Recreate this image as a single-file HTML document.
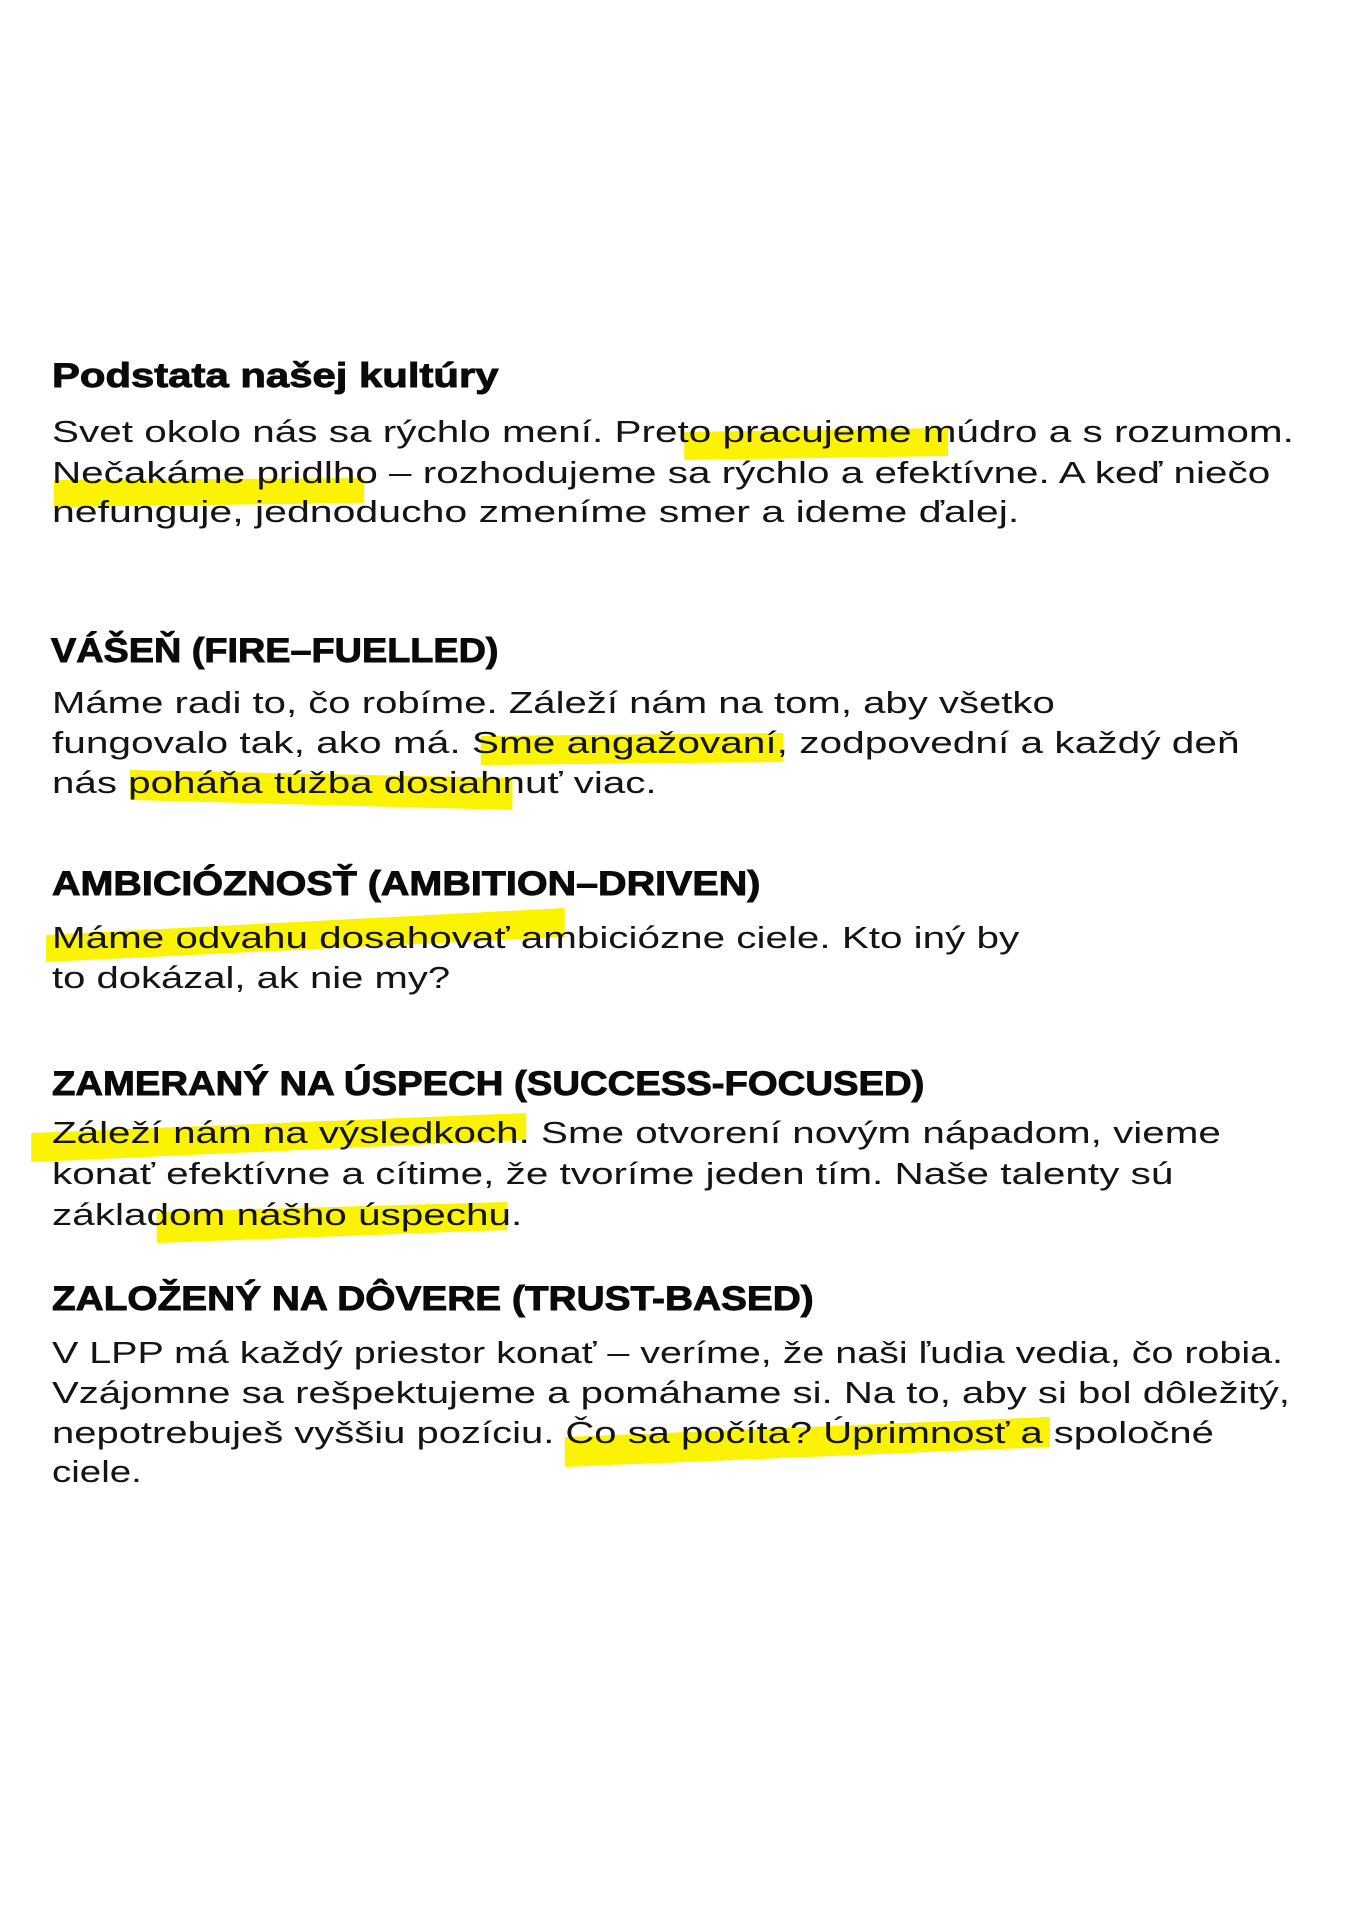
<!DOCTYPE html>
<html><head><meta charset="utf-8"><style>
html,body{margin:0;padding:0;background:#fff;}
svg{display:block;}
.h{font-family:"Liberation Sans",sans-serif;font-weight:bold;font-size:34px;fill:#0a0a0a;stroke:#0a0a0a;stroke-width:0.9px;}
.b{font-family:"Liberation Sans",sans-serif;font-size:31px;fill:#141414;}
.y{fill:#fbf300;}
</style></head><body>
<svg width="1357" height="1920" viewBox="0 0 1357 1920" xmlns="http://www.w3.org/2000/svg">
<g transform="translate(0.6,0) scale(0.988,1)">
<polygon class="y" points="692,432 959,428 959,456 692,460"/>
<polygon class="y" points="54,480 368,478 368,503 54,507"/>
<polygon class="y" points="486,736 792,733 792,762 486,765"/>
<polygon class="y" points="131,770 518,778 518,810 131,800"/>
<polygon class="y" points="46,935 571,908 571,937 46,962"/>
<polygon class="y" points="31,1133 532,1113 532,1140 31,1162"/>
<polygon class="y" points="158,1212 513,1202 513,1230 158,1243"/>
<polygon class="y" points="571,1437 1062,1417 1062,1447 571,1467"/>

<text class="h" x="52" y="387" textLength="452" lengthAdjust="spacingAndGlyphs">Podstata našej kultúry</text>
<text class="b" x="52" y="442" textLength="1257" lengthAdjust="spacingAndGlyphs">Svet okolo nás sa rýchlo mení. Preto pracujeme múdro a s rozumom.</text>
<text class="b" x="52" y="483" textLength="1233" lengthAdjust="spacingAndGlyphs">Nečakáme pridlho – rozhodujeme sa rýchlo a efektívne. A keď niečo</text>
<text class="b" x="52" y="522" textLength="979" lengthAdjust="spacingAndGlyphs">nefunguje, jednoducho zmeníme smer a ideme ďalej.</text>

<text class="h" x="51" y="662" textLength="453" lengthAdjust="spacingAndGlyphs">VÁŠEŇ (FIRE–FUELLED)</text>
<text class="b" x="52" y="713" textLength="1015" lengthAdjust="spacingAndGlyphs">Máme radi to, čo robíme. Záleží nám na tom, aby všetko</text>
<text class="b" x="52" y="753" textLength="1202" lengthAdjust="spacingAndGlyphs">fungovalo tak, ako má. Sme angažovaní, zodpovední a každý deň</text>
<text class="b" x="52" y="793" textLength="612" lengthAdjust="spacingAndGlyphs">nás poháňa túžba dosiahnuť viac.</text>

<text class="h" x="52" y="895" textLength="717" lengthAdjust="spacingAndGlyphs">AMBICIÓZNOSŤ (AMBITION–DRIVEN)</text>
<text class="b" x="52" y="948" textLength="979" lengthAdjust="spacingAndGlyphs">Máme odvahu dosahovať ambiciózne ciele. Kto iný by</text>
<text class="b" x="52" y="988" textLength="403" lengthAdjust="spacingAndGlyphs">to dokázal, ak nie my?</text>

<text class="h" x="52" y="1095" textLength="883" lengthAdjust="spacingAndGlyphs">ZAMERANÝ NA ÚSPECH (SUCCESS-FOCUSED)</text>
<text class="b" x="52" y="1143" textLength="1183" lengthAdjust="spacingAndGlyphs">Záleží nám na výsledkoch. Sme otvorení novým nápadom, vieme</text>
<text class="b" x="52" y="1184" textLength="1135" lengthAdjust="spacingAndGlyphs">konať efektívne a cítime, že tvoríme jeden tím. Naše talenty sú</text>
<text class="b" x="52" y="1225" textLength="476" lengthAdjust="spacingAndGlyphs">základom nášho úspechu.</text>

<text class="h" x="52" y="1310" textLength="771" lengthAdjust="spacingAndGlyphs">ZALOŽENÝ NA DÔVERE (TRUST-BASED)</text>
<text class="b" x="52" y="1363" textLength="1246" lengthAdjust="spacingAndGlyphs">V LPP má každý priestor konať – veríme, že naši ľudia vedia, čo robia.</text>
<text class="b" x="52" y="1403" textLength="1253" lengthAdjust="spacingAndGlyphs">Vzájomne sa rešpektujeme a pomáhame si. Na to, aby si bol dôležitý,</text>
<text class="b" x="52" y="1443" textLength="1176" lengthAdjust="spacingAndGlyphs">nepotrebuješ vyššiu pozíciu. Čo sa počíta? Úprimnosť a spoločné</text>
<text class="b" x="52" y="1482" textLength="91" lengthAdjust="spacingAndGlyphs">ciele.</text>
</g>
</svg>
</body></html>
